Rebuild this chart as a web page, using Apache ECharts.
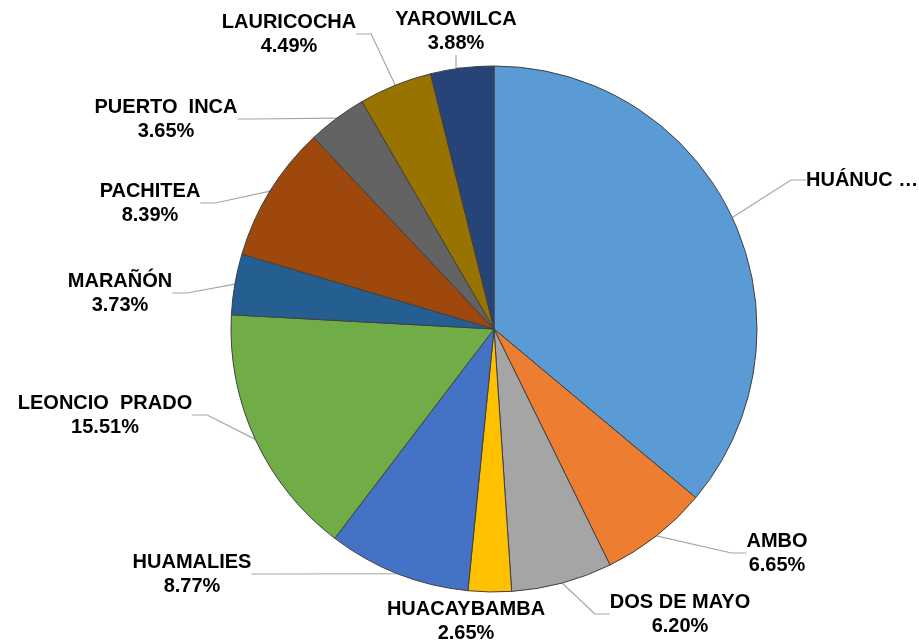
<!DOCTYPE html>
<html>
<head>
<meta charset="utf-8">
<script src="https://cdn.jsdelivr.net/npm/echarts@6/dist/echarts.min.js"></script>
<style>html,body{margin:0;padding:0;background:#fff;}#c{width:919px;height:642px;}</style>
</head>
<body>
<div id="c"></div>
<script>
const names = ['HUÁNUCO','AMBO','DOS DE MAYO','HUACAYBAMBA','HUAMALIES','LEONCIO  PRADO','MARAÑÓN','PACHITEA','PUERTO  INCA','LAURICOCHA','YAROWILCA'];
const values = [36.08, 6.65, 6.20, 2.65, 8.77, 15.51, 3.73, 8.39, 3.65, 4.49, 3.88];
const colors = ['#5B9BD5','#ED7D31','#A5A5A5','#FFC000','#4472C4','#70AD47','#255E91','#9E480E','#636363','#997300','#264478'];
const labelPos = [[806,180],[777,553],[680,614],[466,621],[192,574],[105,415],[120,293],[150,203],[166,119],[289,34],[456,31]];

const chart = echarts.init(document.getElementById('c'), null, {renderer:'canvas'});
chart.setOption({
  backgroundColor:'#ffffff',
  animation:false,
  series:[{
    type:'pie',
    center:[494,329],
    radius:263,
    startAngle:90,
    clockwise:true,
    avoidLabelOverlap:false,
    data: names.map((n,i)=>({name:n, value:values[i], itemStyle:{color:colors[i]},
      labelLine:{show: i!==3}})),
    itemStyle:{borderColor:'#404040', borderWidth:1},
    label:{
      show:true,
      fontFamily:'Liberation Sans, Arial, sans-serif',
      fontWeight:'bold',
      fontSize:20,
      lineHeight:24,
      color:'#000',
      formatter:(p)=> p.dataIndex===0 ? p.name.slice(0,6)+' …' : p.name+'\n'+values[p.dataIndex].toFixed(2)+'%'
    },
    labelLine:{show:true, length:15, length2:15, lineStyle:{color:'#A6A6A6', width:1.2}},
    labelLayout:(params)=>{
      const p = labelPos[params.dataIndex];
      if (params.dataIndex===0) return {x:p[0], y:p[1], align:'left', verticalAlign:'middle'};
      return {x:p[0], y:p[1], align:'center', verticalAlign:'middle'};
    }
  }]
});
</script>
</body>
</html>
